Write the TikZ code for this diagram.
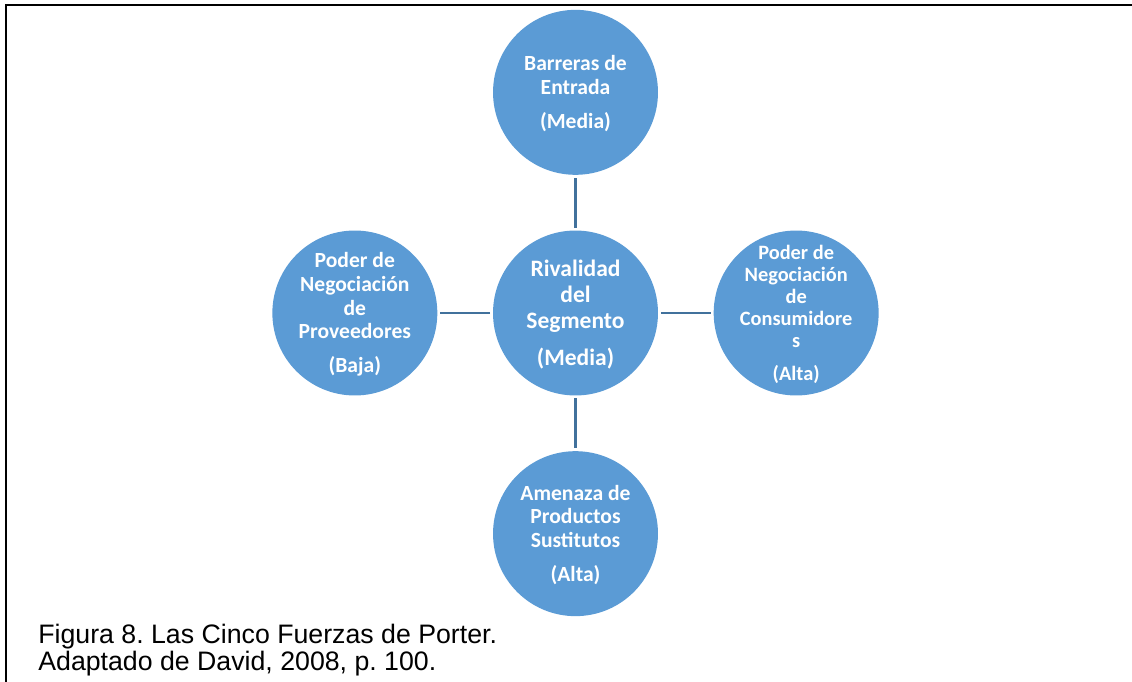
\documentclass[tikz,border=0pt]{standalone}
\usepackage{fontspec}
\setmainfont{Carlito}
\newfontfamily\capfont{Liberation Sans}
\usetikzlibrary{positioning}
\definecolor{forceblue}{HTML}{5B9BD5}
\definecolor{linkblue}{HTML}{41719C}
% lines of a circle, kept from widening it
\newcommand\forcelines[1]{\makebox[0pt]{\raisebox{-1.5pt}[\height][\depth]{\begin{tabular}{@{}c@{}}#1\end{tabular}}}}

\begin{document}
\begin{tikzpicture}[x=0.02cm,y=-0.02cm,node distance=1.1cm,
  force/.style={circle,fill=forceblue,minimum size=3.3cm,inner sep=0pt,text=white,font=\bfseries\fontsize{12.3}{13.4}\selectfont},
  core/.style={force,font=\bfseries\fontsize{13.4}{15}\selectfont},
  small/.style={font=\bfseries\fontsize{11.6}{12.5}\selectfont},
  link/.style={draw=linkblue,line width=1.7pt,shorten <=1.5pt,shorten >=1.5pt},
  caption/.style={anchor=base west,inner sep=0pt,font=\capfont\frenchspacing\fontsize{15.2}{17}\selectfont}]
\useasboundingbox (0,0) rectangle (1132,682);
\draw[line width=1.2pt] (6,682) -- (6,5) -- (1132,5);
% the five forces
\node[core] (rival) at (575.5,313) {\forcelines{Rivalidad\\del\\Segmento\\[6pt](Media)}};
\node[force,above=of rival] (entry) {\forcelines{Barreras de\\Entrada\\[6pt](Media)}};
\node[force,left=of rival] (supply) {\forcelines{Poder de\\Negociación\\de\\Proveedores\\[6pt](Baja)}};
\node[force,small,right=of rival] (buyers) {\forcelines{Poder de\\Negociación\\de\\Consumidore\\s\\[6pt](Alta)}};
\node[force,below=of rival] (subst) {\forcelines{Amenaza de\\Productos\\Sustitutos\\[6pt](Alta)}};
\draw[link] (rival) -- (entry);
\draw[link] (rival) -- (supply);
\draw[link] (rival) -- (buyers);
\draw[link] (rival) -- (subst);
% caption
\node[caption] (cap1) at (38,643) {Figura 8. Las Cinco Fuerzas de Porter.};
\node[caption] (cap2) at (38,670) {Adaptado de David, 2008, p. 100.};
\end{tikzpicture}
\end{document}
